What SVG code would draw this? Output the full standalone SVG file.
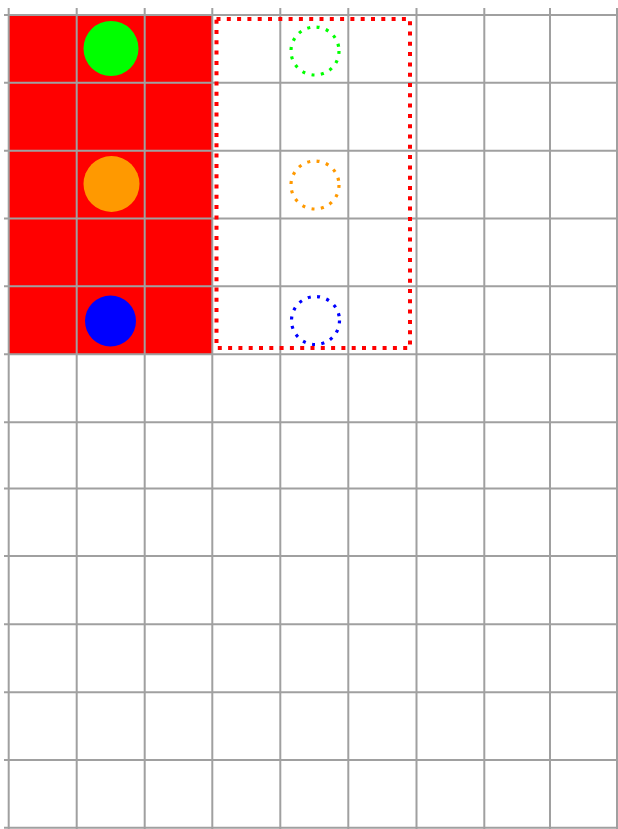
<svg xmlns="http://www.w3.org/2000/svg" width="618" height="829" viewBox="0 0 618 829">
<style>
.grid line{stroke:#a0a0a0;stroke-width:2}
.dc{fill:none;stroke-width:3.2;stroke-dasharray:3 6.5}
</style>
<rect width="618" height="829" fill="#ffffff"/>
<rect x="9" y="15" width="203.3" height="339.3" fill="#ff0000"/>
<g class="grid">
<line x1="8.7" y1="8" x2="8.7" y2="829"/>
<line x1="76.7" y1="8" x2="76.7" y2="829"/>
<line x1="144.7" y1="8" x2="144.7" y2="829"/>
<line x1="212.3" y1="8" x2="212.3" y2="829"/>
<line x1="280.3" y1="8" x2="280.3" y2="829"/>
<line x1="348.3" y1="8" x2="348.3" y2="829"/>
<line x1="416.5" y1="8" x2="416.5" y2="829"/>
<line x1="484.3" y1="8" x2="484.3" y2="829"/>
<line x1="550" y1="8" x2="550" y2="829"/>
<line x1="617" y1="8" x2="617" y2="829"/>
<line x1="4" y1="15" x2="618" y2="15"/>
<line x1="4" y1="82.7" x2="618" y2="82.7"/>
<line x1="4" y1="150.7" x2="618" y2="150.7"/>
<line x1="4" y1="218.5" x2="618" y2="218.5"/>
<line x1="4" y1="286.3" x2="618" y2="286.3"/>
<line x1="4" y1="354.3" x2="618" y2="354.3"/>
<line x1="4" y1="422.3" x2="618" y2="422.3"/>
<line x1="4" y1="488.5" x2="618" y2="488.5"/>
<line x1="4" y1="556" x2="618" y2="556"/>
<line x1="4" y1="624.3" x2="618" y2="624.3"/>
<line x1="4" y1="692.3" x2="618" y2="692.3"/>
<line x1="4" y1="760" x2="618" y2="760"/>
<line x1="4" y1="827.7" x2="618" y2="827.7"/>
</g>
<g id="green"><circle cx="111" cy="48.5" r="27.5" fill="#00ff00"/></g>
<g id="orange"><circle cx="111.5" cy="184" r="28" fill="#ff9900"/></g>
<g id="blue"><circle cx="110.5" cy="321" r="25.5" fill="#0000ff"/></g>
<g id="frame"><rect x="216.5" y="19" width="193.5" height="329" fill="none" stroke="#ff0000" stroke-width="4" stroke-dasharray="4 6.3"/></g>
<g id="green-dotted"><circle class="dc" cx="315" cy="51" r="24" stroke="#00ff00"/></g>
<g id="orange-dotted"><circle class="dc" cx="315" cy="185" r="24" stroke="#ff9900"/></g>
<g id="blue-dotted"><circle class="dc" cx="315.5" cy="320.5" r="24" stroke="#0000ff"/></g>
<g id="connectors"/>
</svg>
